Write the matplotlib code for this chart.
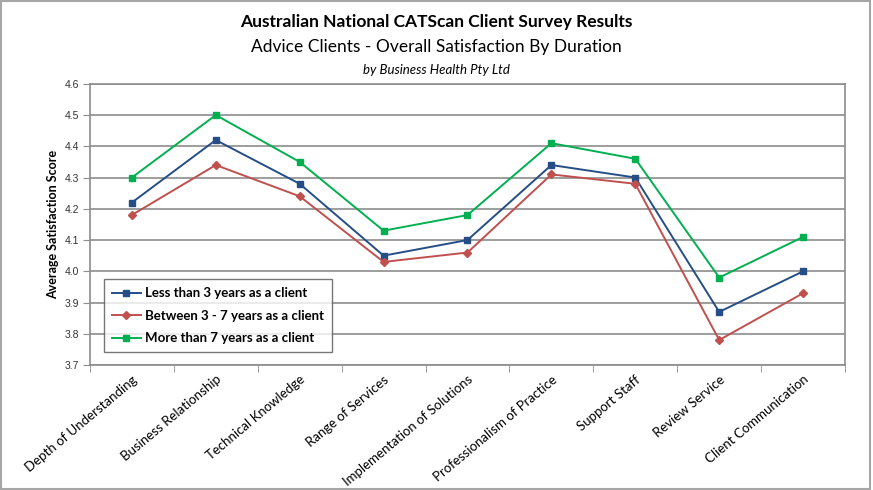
import numpy as np
import matplotlib
matplotlib.use('Agg')
import matplotlib.pyplot as plt
from matplotlib.patches import Rectangle

categories = ['Depth of Understanding', 'Business Relationship', 'Technical Knowledge',
              'Range of Services', 'Implementation of Solutions', 'Professionalism of Practice',
              'Support Staff', 'Review Service', 'Client Communication']

less_3 = [4.22, 4.42, 4.28, 4.05, 4.10, 4.34, 4.30, 3.87, 4.00]
between_3_7 = [4.18, 4.34, 4.24, 4.03, 4.06, 4.31, 4.28, 3.78, 3.93]
more_7 = [4.30, 4.50, 4.35, 4.13, 4.18, 4.41, 4.36, 3.98, 4.11]

series_names = ['Less than 3 years as a client',
                'Between 3 - 7 years as a client',
                'More than 7 years as a client']

y_ticks = [3.7, 3.8, 3.9, 4.0, 4.1, 4.2, 4.3, 4.4, 4.5, 4.6]

title_font = ['Lato', 'DejaVu Sans']
tick_font = ['Liberation Sans', 'DejaVu Sans']

fig = plt.figure(figsize=(8.73, 4.90), dpi=100)
ax = fig.add_axes([0.103, 0.255, 0.865, 0.574])

x = np.arange(len(categories))
ax.plot(x, less_3, color='#264E86', marker='s', markersize=4.5, lw=1.4, label=series_names[0])
ax.plot(x, between_3_7, color='#C0504D', marker='D', markersize=4.5, lw=1.4, label=series_names[1])
ax.plot(x, more_7, color='#00B050', marker='s', markersize=4.5, lw=1.4, label=series_names[2])

ax.set_xlim(-0.5, len(categories) - 0.5)
ax.set_ylim(3.7, 4.6)
ax.set_yticks(y_ticks)
ax.set_yticklabels([f'{v:.1f}' for v in y_ticks], fontsize=7.5, color='#333333', family=tick_font)
ax.yaxis.grid(True, color='#8C8C8C', lw=1.2)
ax.set_axisbelow(True)

# category ticks sit between categories, like Excel
ax.set_xticks(x)
ax.set_xticks(np.arange(-0.5, len(categories)), minor=True)
ax.tick_params(axis='x', which='major', length=0, pad=6)
ax.tick_params(axis='x', which='minor', length=5, color='#8C8C8C')
ax.tick_params(axis='y', length=5, color='#8C8C8C', pad=3)
ax.set_xticklabels(categories, rotation=40, ha='right', rotation_mode='anchor',
                   fontsize=9.5, family=title_font)

for s in ax.spines.values():
    s.set_color('#8C8C8C')
    s.set_linewidth(1.2)

ax.set_ylabel('Average Satisfaction Score', fontsize=9, fontweight='bold', family=title_font)

leg = ax.legend(loc='lower left', bbox_to_anchor=(0.01, 0.022),
                prop={'family': title_font, 'weight': 'bold', 'size': 9.5},
                fancybox=False, edgecolor='#555555', handlelength=2.2,
                borderpad=0.6, labelspacing=0.8, handletextpad=0.3)
leg.get_frame().set_linewidth(1.0)

fig.text(0.5, 0.945, 'Australian National CATScan Client Survey Results', ha='center',
         fontsize=12.5, fontweight='bold', family=title_font)
fig.text(0.5, 0.893, 'Advice Clients - Overall Satisfaction By Duration', ha='center',
         fontsize=12.5, family=title_font)
fig.text(0.5, 0.848, 'by Business Health Pty Ltd', ha='center',
         fontsize=9.5, style='italic', family=title_font)

fig.patches.append(Rectangle((0.001, 0.002), 0.996, 0.995, transform=fig.transFigure,
                             fill=False, edgecolor='#A6A6A6', lw=1.5))

fig.savefig('out.png', dpi=100)
